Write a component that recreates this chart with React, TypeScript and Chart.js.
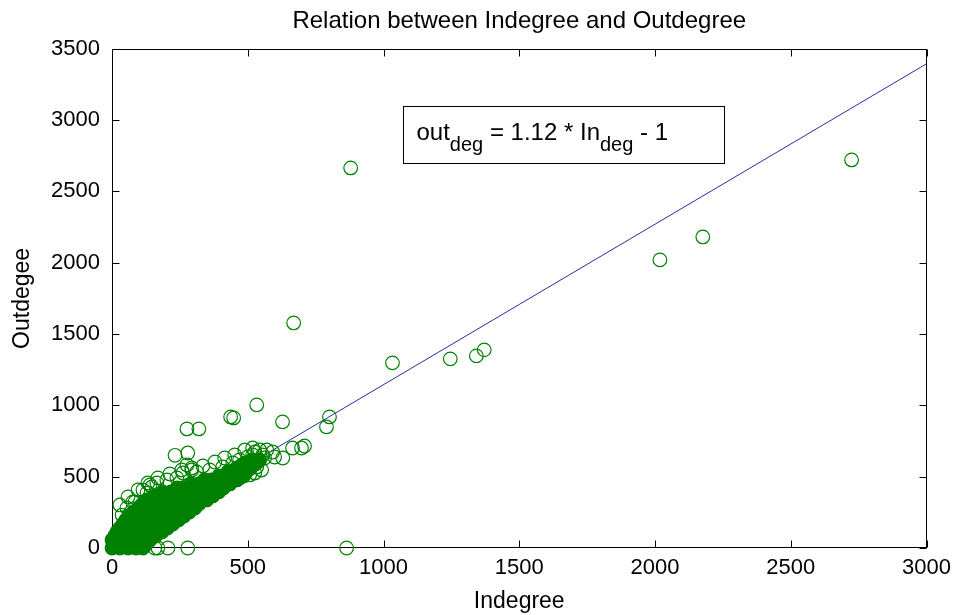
import React, { useEffect, useRef } from "react";
import { Chart, registerables } from "chart.js";

Chart.register(...registerables);

const chartTitle = "Relation between Indegree and Outdegree";
const xAxisTitle = "Indegree";
const yAxisTitle = "Outdegee";
const xTickValues = [0, 500, 1000, 1500, 2000, 2500, 3000];
const yTickValues = [0, 500, 1000, 1500, 2000, 2500, 3000, 3500];

// fitted line endpoints (as drawn)
const fitX = [0, 3000];
const fitY = [20, 3395];

// individual (visible) circles
const sparseX = [
  879, 2724, 2176, 2018, 1371, 1342, 1246, 1033, 669, 533, 437, 448, 276, 320, 628, 801, 790, 698, 709,
  864, 158, 169, 206, 279, 629, 599, 665, 592, 570, 526, 518, 232, 279, 276, 294, 261, 312, 360, 408, 445,
  470, 500, 518, 544, 555, 562, 537, 551, 526, 533, 478, 452, 507, 470, 77, 114, 140, 165, 202, 239, 37,
  55, 129, 147, 85,
  29, 59, 96, 132, 169, 213, 257, 294, 335, 379, 415, 452, 489,
];
const sparseY = [
  2665, 2721, 2181, 2020, 1389, 1347, 1326, 1298, 1578, 1003, 919, 912, 835, 835, 884, 919, 849, 701, 715,
  0, 0, 0, 0, 0, 631, 638, 701, 673, 687, 673, 652, 650, 666, 582, 547, 526, 533, 547, 568, 596,
  617, 638, 701, 687, 652, 631, 603, 547, 526, 568, 582, 547, 512, 491, 323, 407, 442, 456, 477, 491, 231,
  281, 386, 428, 323,
  302, 358, 407, 456, 491, 519, 547, 561, 575, 603, 631, 652, 687,
];

// dense core of heavily overlapping circles (renders as a solid mass)
const denseX = [
  0, 29, 59, 88, 114,
  14, 44, 74, 101, 127,
  0, 29, 59, 88, 118, 140,
  10, 44, 74, 103, 129, 160,
  18, 48, 77, 107, 136, 165, 184,
  29, 62, 92, 121, 150, 175, 204,
  40, 70, 99, 129, 158, 187, 224,
  51, 81, 110, 140, 169, 198, 231, 245,
  62, 92, 121, 151, 180, 210, 239, 265,
  79, 108, 137, 166, 196, 226, 255, 285,
  96, 125, 154, 184, 213, 243, 272, 305,
  112, 141, 170, 200, 230, 259, 289, 320,
  129, 158, 187, 217, 246, 276, 305, 335, 349,
  158, 172, 202, 231, 261, 290, 320, 349, 371,
  187, 217, 246, 276, 305, 335, 364, 393,
  240, 261, 290, 320, 349, 378, 410,
  290, 320, 349, 379, 408, 434,
  340, 364, 393, 422, 452, 460,
  393, 423, 452, 485,
  426, 437, 467, 495,
  460, 489, 511,
  487, 500, 528,
  515, 544,
];
const denseY = [
  0, 0, 0, 0, 0,
  28, 28, 28, 28, 28,
  56, 56, 56, 56, 56, 56,
  84, 84, 84, 84, 84, 84,
  112, 112, 112, 112, 112, 112, 112,
  140, 140, 140, 140, 140, 140, 140,
  168, 168, 168, 168, 168, 168, 168,
  196, 196, 196, 196, 196, 196, 196, 196,
  224, 224, 224, 224, 224, 224, 224, 224,
  252, 252, 252, 252, 252, 252, 252, 252,
  281, 281, 281, 281, 281, 281, 281, 281,
  309, 309, 309, 309, 309, 309, 309, 309,
  337, 337, 337, 337, 337, 337, 337, 337, 337,
  365, 365, 365, 365, 365, 365, 365, 365, 365,
  393, 393, 393, 393, 393, 393, 393, 393,
  421, 421, 421, 421, 421, 421, 421,
  449, 449, 449, 449, 449, 449,
  477, 477, 477, 477, 477, 477,
  505, 505, 505, 505,
  533, 533, 533, 533,
  561, 561, 561,
  589, 589, 589,
  617, 617,
];

const FONT = '"Liberation Sans", Arial, Helvetica, sans-serif';
const GREEN = "#008000";

const framePlugin = {
  id: "matlabFrame",
  beforeDatasetsDraw(chart: any) {
    const { ctx, chartArea: a, scales } = chart;
    const L = Math.round(a.left) + 0.5;
    const R = Math.round(a.right) - 0.5;
    const T = Math.round(a.top) + 0.5;
    const B = Math.round(a.bottom) - 0.5;
    ctx.save();
    ctx.strokeStyle = "#000";
    ctx.lineWidth = 1;
    ctx.strokeRect(L, T, R - L, B - T);
    const tl = 7;
    ctx.beginPath();
    xTickValues.forEach((v) => {
      const px = Math.round(scales.x.getPixelForValue(v)) + 0.5;
      ctx.moveTo(px, B);
      ctx.lineTo(px, B - tl);
      ctx.moveTo(px, T);
      ctx.lineTo(px, T + tl);
    });
    yTickValues.forEach((v) => {
      const py = Math.round(scales.y.getPixelForValue(v)) + 0.5;
      ctx.moveTo(L, py);
      ctx.lineTo(L + tl, py);
      ctx.moveTo(R, py);
      ctx.lineTo(R - tl, py);
    });
    ctx.stroke();
    ctx.restore();
  },
  afterDraw(chart: any) {
    const { ctx, chartArea: a } = chart;
    const bx = Math.round(a.left + 291) + 0.5;
    const by = Math.round(a.top + 57) + 0.5;
    const bw = 321;
    const bh = 57;
    ctx.save();
    ctx.strokeStyle = "#000";
    ctx.lineWidth = 1;
    ctx.strokeRect(bx, by, bw, bh);
    const parts: [string, boolean][] = [
      ["out", false],
      ["deg", true],
      [" = 1.12 * In", false],
      ["deg", true],
      [" - 1", false],
    ];
    let x = bx + 13;
    const base = by + 33.5;
    ctx.fillStyle = "#000";
    ctx.textBaseline = "alphabetic";
    ctx.textAlign = "left";
    parts.forEach(([t, sub]) => {
      ctx.font = sub ? `20px ${FONT}` : `24px ${FONT}`;
      ctx.fillText(t, x, sub ? base + 11 : base);
      x += ctx.measureText(t).width;
    });
    ctx.restore();
  },
};

export default function App() {
  const canvasRef = useRef<HTMLCanvasElement | null>(null);

  useEffect(() => {
    const canvas = canvasRef.current;
    if (!canvas) return;
    const chart = new Chart(canvas, {
      type: "scatter",
      data: {
        datasets: [
          {
            label: "sparse",
            data: sparseX.map((x, i) => ({ x, y: sparseY[i] })),
            pointStyle: "circle",
            pointRadius: 6.8,
            pointBorderWidth: 1.2,
            pointBorderColor: GREEN,
            pointBackgroundColor: "rgba(0,0,0,0)",
            borderColor: GREEN,
            backgroundColor: "rgba(0,0,0,0)",
            showLine: false,
            clip: false as any,
            order: 1,
          },
          {
            label: "dense",
            data: denseX.map((x, i) => ({ x, y: denseY[i] })),
            pointStyle: "circle",
            pointRadius: 6.8,
            pointBorderWidth: 1.2,
            pointBorderColor: GREEN,
            pointBackgroundColor: GREEN,
            borderColor: GREEN,
            backgroundColor: GREEN,
            showLine: false,
            clip: false as any,
            order: 2,
          },
          {
            label: "fit",
            data: fitX.map((x, i) => ({ x, y: fitY[i] })),
            showLine: true,
            pointRadius: 0,
            borderColor: "#2b2ba6",
            borderWidth: 1,
            fill: false,
            order: 3,
          },
        ],
      },
      options: {
        animation: false,
        responsive: false,
        devicePixelRatio: 1,
        events: [],
        layout: { padding: { left: 0, right: 30, top: 0, bottom: 0 } },
        plugins: {
          legend: { display: false },
          tooltip: { enabled: false },
          title: {
            display: true,
            fullSize: false,
            text: chartTitle,
            color: "#000",
            font: { family: FONT, size: 24, weight: "normal" },
            padding: { top: 7, bottom: 13 },
          },
        },
        scales: {
          x: {
            type: "linear",
            min: 0,
            max: 3000,
            afterBuildTicks: (s: any) => {
              s.ticks = xTickValues.map((v) => ({ value: v }));
            },
            afterFit: (s: any) => {
              s.height = 67;
            },
            grid: { display: false, drawTicks: false },
            border: { display: false },
            ticks: {
              color: "#000",
              font: { family: FONT, size: 22 },
              padding: 7,
              maxRotation: 0,
              autoSkip: false,
              callback: (v: any) => String(v),
            },
            title: {
              display: true,
              text: xAxisTitle,
              color: "#000",
              font: { family: FONT, size: 23 },
              padding: { top: 0, bottom: 0 },
            },
          },
          y: {
            type: "linear",
            min: 0,
            max: 3500,
            afterBuildTicks: (s: any) => {
              s.ticks = yTickValues.map((v) => ({ value: v }));
            },
            afterFit: (s: any) => {
              s.width = 112;
            },
            grid: { display: false, drawTicks: false },
            border: { display: false },
            ticks: {
              color: "#000",
              font: { family: FONT, size: 22 },
              padding: 12,
              autoSkip: false,
              callback: (v: any) => String(v),
            },
            title: {
              display: true,
              text: yAxisTitle,
              color: "#000",
              font: { family: FONT, size: 23 },
              padding: { top: 9, bottom: 0 },
            },
          },
        },
      },
      plugins: [framePlugin],
    });
    return () => chart.destroy();
  }, []);

  return (
    <div style={{ position: "fixed", left: 0, top: 0, width: 958, height: 615, background: "#fff" }}>
      <canvas ref={canvasRef} width={958} height={615} style={{ display: "block", width: 958, height: 615 }} />
    </div>
  );
}
